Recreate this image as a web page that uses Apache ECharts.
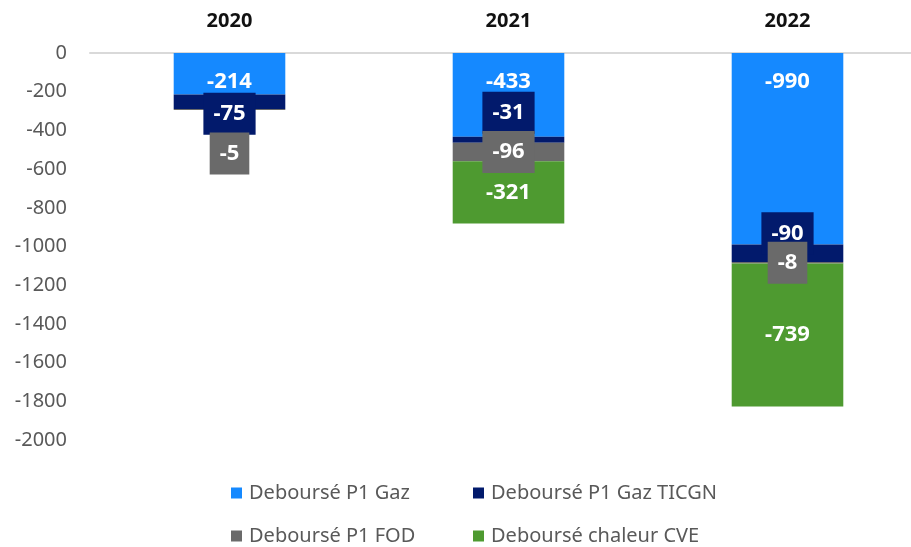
<!DOCTYPE html>
<html>
<head>
<meta charset="utf-8">
<script src="https://cdn.jsdelivr.net/npm/echarts@6/dist/echarts.min.js"></script>
<style>
  html, body { margin: 0; padding: 0; background: #fff; }
  #chart { width: 911px; height: 547px; }
</style>
</head>
<body>
<div id="chart"></div>
<script>
// data
var years = ['2020', '2021', '2022']
var seriesNames = ['Deboursé P1 Gaz', 'Deboursé P1 Gaz TICGN', 'Deboursé P1 FOD', 'Deboursé chaleur CVE']
var p1Gaz = [-214, -433, -990]
var p1Ticgn = [-75, -31, -90]
var p1Fod = [-5, -96, -8]
var chaleurCve = [null, -321, -739]
var yTicks = [0, -200, -400, -600, -800, -1000, -1200, -1400, -1600, -1800, -2000]

var colors = ['#1589ff', '#021a6c', '#6a6a6a', '#4e9a30']
// label nudges (px), like the excel labels
var labelShift = [
  [8, -13, -67],
  [12, -27, -20],
  [44, 0, 0],
  [0, 0, 0]
]
var allData = [p1Gaz, p1Ticgn, p1Fod, chaleurCve]

var chart = echarts.init(document.getElementById('chart'))

var series = allData.map(function (vals, s) {
  var boxed = s === 1 || s === 2
  return {
    name: seriesNames[s],
    type: 'bar',
    stack: 'total',
    barWidth: '40%',
    itemStyle: { color: colors[s] },
    data: vals.map(function (v, i) {
      return {
        value: v,
        label: { offset: [0, labelShift[s][i]] }
      }
    }),
    label: {
      show: true,
      position: 'inside',
      color: '#fff',
      fontFamily: 'Noto Sans',
      fontWeight: 'bold',
      fontSize: 22,
      backgroundColor: boxed ? colors[s] : 'transparent',
      padding: boxed ? [10, 10, 10, 10] : 0,
      formatter: function (p) { return p.value == null ? '' : p.value }
    }
  }
})

var legendPos = [[226, 478], [468, 478], [226, 521], [468, 521]]
var legends = seriesNames.map(function (n, i) {
  return {
    data: [n],
    left: legendPos[i][0],
    top: legendPos[i][1],
    itemWidth: 11,
    itemHeight: 11,
    icon: 'rect',
    selectedMode: false,
    textStyle: {
      color: '#595959',
      fontFamily: 'Noto Sans',
      fontSize: 20,
      padding: [0, 0, 0, 2]
    }
  }
})

chart.setOption({
  backgroundColor: '#fff',
  animation: false,
  color: colors,
  legend: legends,
  grid: {
    left: 90,
    top: 53,
    width: 837,
    height: 387,
    outerBoundsMode: 'none'
  },
  xAxis: {
    type: 'category',
    position: 'top',
    data: years,
    axisTick: { show: false },
    axisLine: {
      show: true,
      lineStyle: { color: '#d9d9d9', width: 2 }
    },
    axisLabel: {
      color: '#111',
      fontFamily: 'Noto Sans',
      fontWeight: 'bold',
      fontSize: 20,
      margin: 22
    }
  },
  yAxis: {
    type: 'value',
    min: yTicks[yTicks.length - 1],
    max: yTicks[0],
    interval: 200,
    axisLine: { show: false },
    axisTick: { show: false },
    splitLine: { show: false },
    axisLabel: {
      color: '#595959',
      fontFamily: 'Noto Sans',
      fontSize: 20,
      margin: 23,
      formatter: function (v) { return String(v) }
    }
  },
  series: series
})
</script>
</body>
</html>
